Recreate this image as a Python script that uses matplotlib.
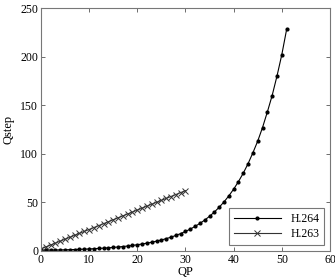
import matplotlib
matplotlib.use('Agg')
import matplotlib.pyplot as plt

# H.264 quantiser step size vs QP
qp_264 = list(range(0, 52))
qstep_264 = [0.63, 0.70, 0.79, 0.88, 0.99, 1.11, 1.25, 1.40, 1.58, 1.77,
             1.98, 2.23, 2.5, 2.81, 3.15, 3.54, 3.97, 4.45, 5.0, 5.61,
             6.3, 7.07, 7.94, 8.91, 10.0, 11.2, 12.6, 14.1, 15.9, 17.8,
             20.0, 22.4, 25.2, 28.3, 31.7, 35.6, 40.0, 44.9, 50.4, 56.6,
             63.5, 71.3, 80.0, 89.8, 101, 113, 127, 143, 160, 180,
             202, 228]

# H.263 quantiser step size vs QP
qp_263 = list(range(0, 31))
qstep_263 = [2, 4, 6, 8, 10, 12, 14, 16, 18, 20,
             22, 24, 26, 28, 30, 32, 34, 36, 38, 40,
             42, 44, 46, 48, 50, 52, 54, 56, 58, 60, 62]

plt.rcParams['font.family'] = ['Liberation Serif', 'DejaVu Serif']

fig = plt.figure(figsize=(3.35, 2.8), dpi=100)
ax = fig.add_axes([0.122, 0.104, 0.863, 0.867])

ax.plot(qp_264, qstep_264, color='black', linewidth=0.8, marker='o',
        markersize=2, label='H.264')
ax.plot(qp_263, qstep_263, color='#333333', linewidth=0.8, marker='x',
        markersize=4.5, markeredgewidth=0.7, label='H.263')

ax.set_xlim(0, 60)
ax.set_ylim(0, 250)
ax.set_xticks([0, 10, 20, 30, 40, 50, 60])
ax.set_yticks([0, 50, 100, 150, 200, 250])
ax.tick_params(direction='in', top=True, right=True, labelsize=8.5,
               length=3, width=0.6, color='#555555', pad=2)
for s in ax.spines.values():
    s.set_color('#777777')
    s.set_linewidth(0.8)

ax.set_xlabel('QP', fontsize=9, labelpad=0)
ax.set_ylabel('Qstep', fontsize=9, labelpad=4)

leg = ax.legend(loc='lower right', fontsize=8.5, fancybox=False,
                handlelength=4, borderpad=0.4, labelspacing=0.3,
                edgecolor='#555555')
leg.get_frame().set_linewidth(0.8)

fig.savefig('out.png', dpi=100)
